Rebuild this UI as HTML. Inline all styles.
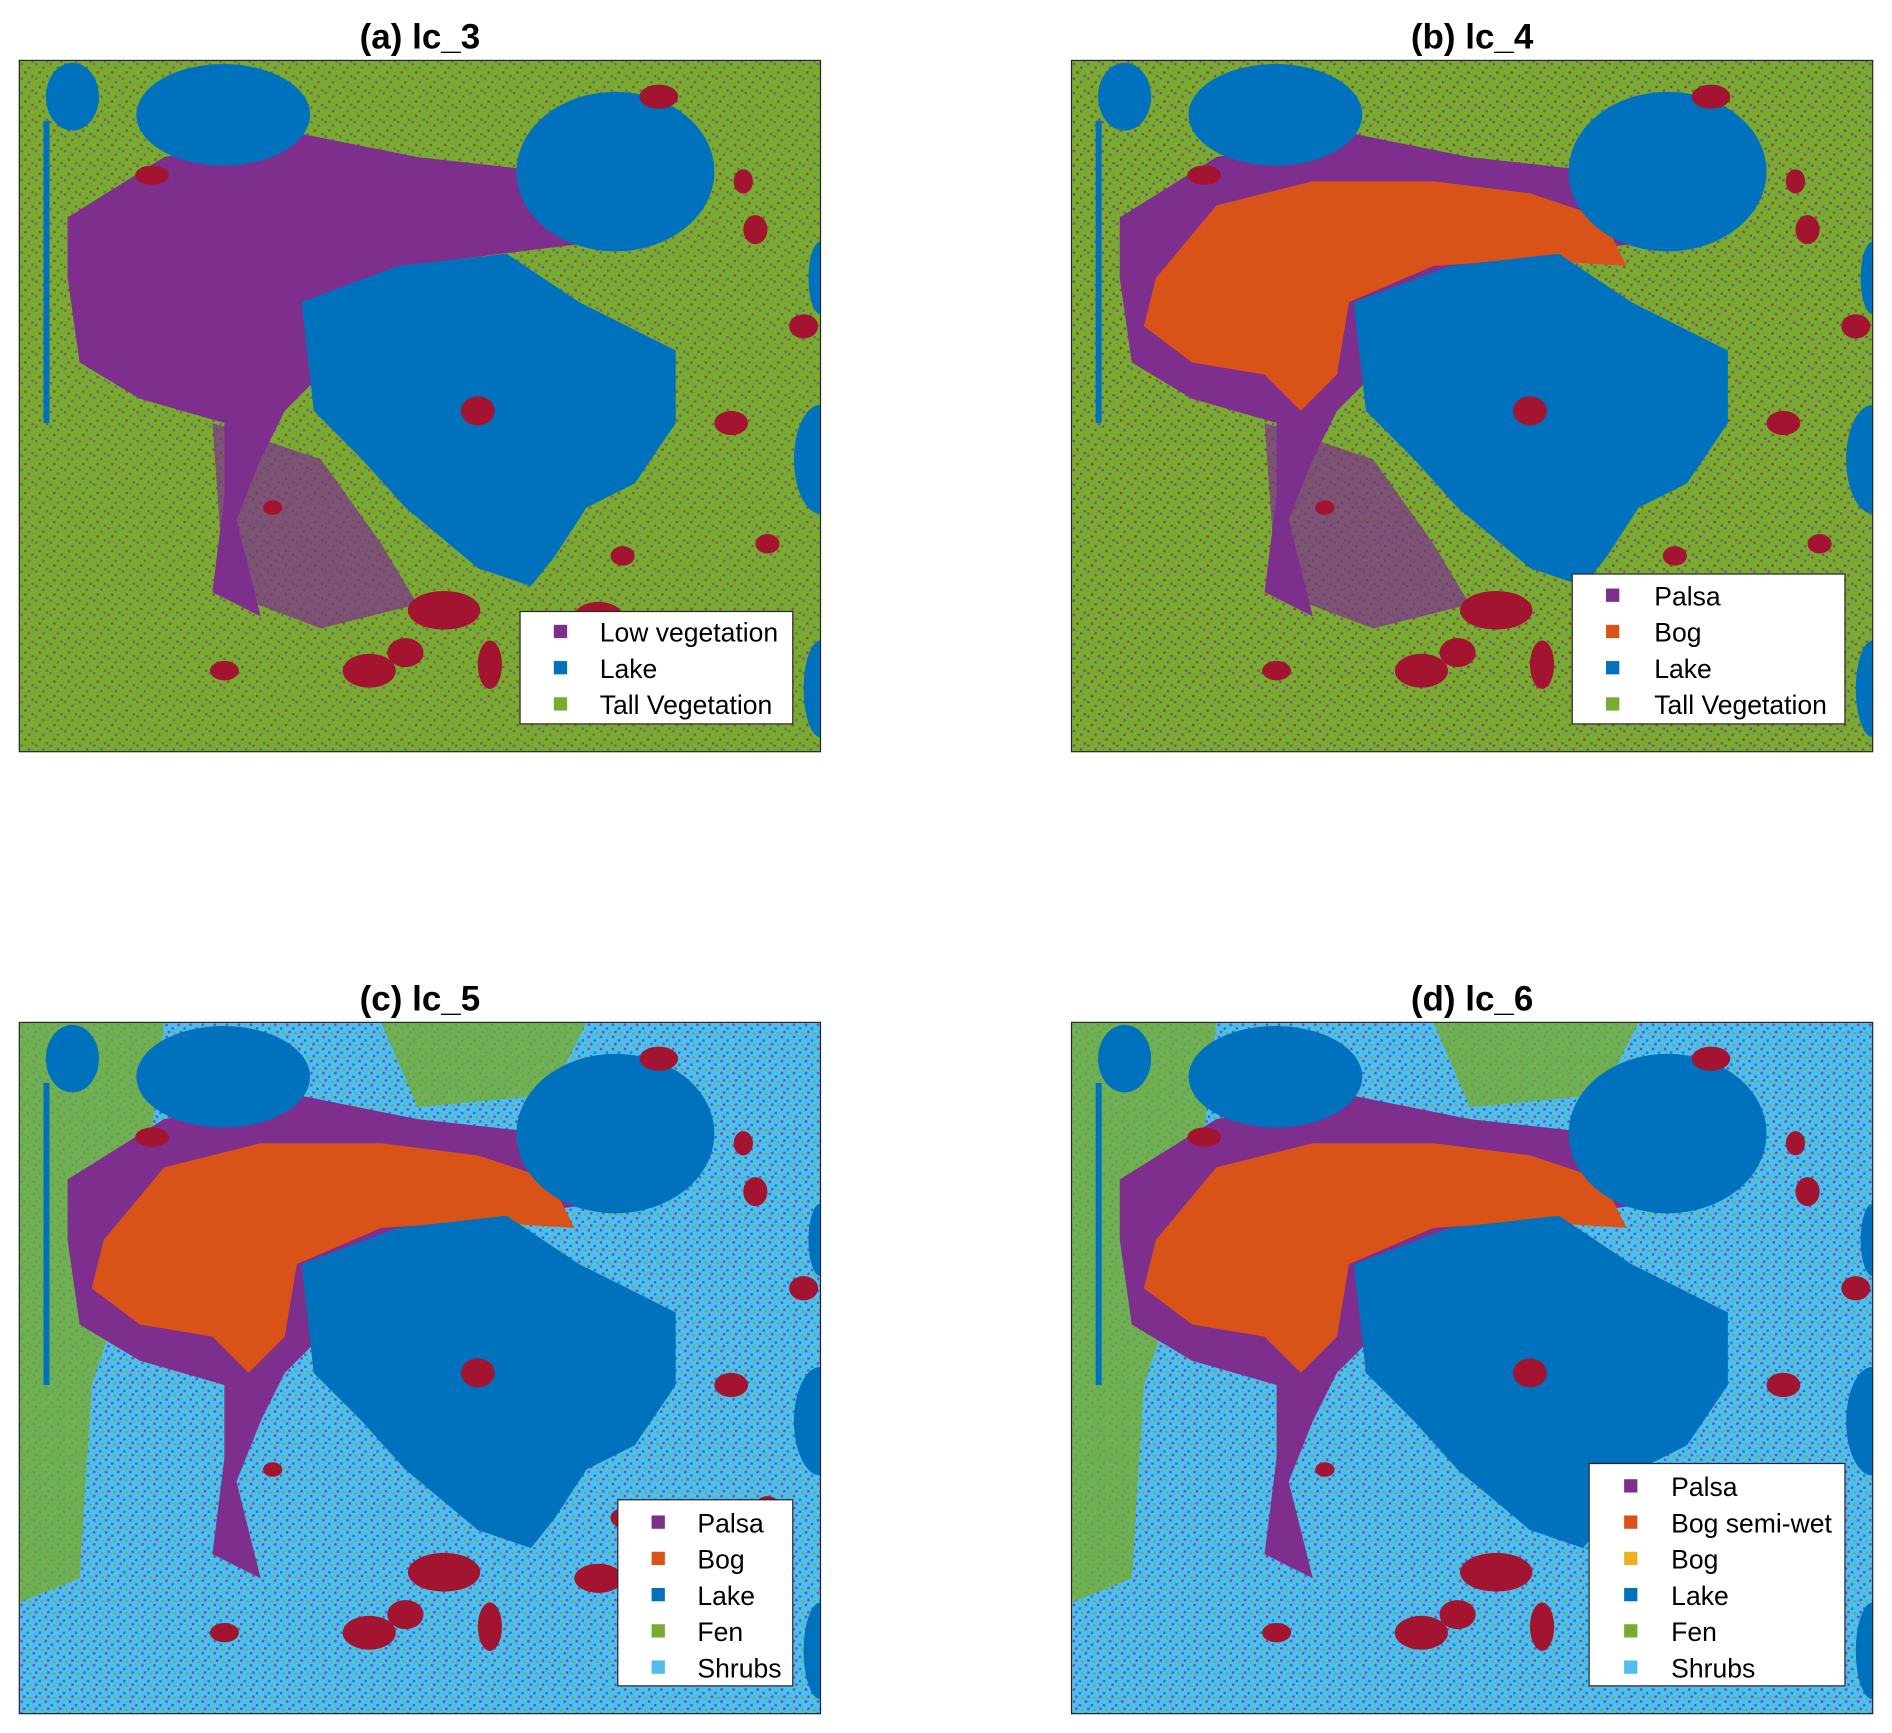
<!DOCTYPE html>
<html><head><meta charset="utf-8"><style>
html,body{margin:0;padding:0;background:#fff}
svg{display:block}
text{font-family:"Liberation Sans",Arial,sans-serif}
</style></head><body>
<svg width="1892" height="1733" viewBox="0 0 1568 1434" preserveAspectRatio="none" xmlns="http://www.w3.org/2000/svg">
<defs>
<clipPath id="cp"><rect width="664" height="572"/></clipPath>
<pattern id="nz" width="12" height="12" patternUnits="userSpaceOnUse">
<rect x="1" y="2" width="2" height="2" fill="#7E2F8E"/><rect x="7" y="5" width="2" height="2" fill="#7E2F8E"/><rect x="4" y="9" width="2" height="2" fill="#A2142F"/><rect x="10" y="0" width="2" height="2" fill="#7E2F8E"/>
</pattern>
<pattern id="nz2" width="10" height="10" patternUnits="userSpaceOnUse">
<rect x="1" y="1" width="2" height="2" fill="#7E2F8E"/><rect x="6" y="4" width="2" height="2" fill="#0072BD"/><rect x="3" y="7" width="2" height="2" fill="#7E2F8E"/><rect x="8" y="8" width="2" height="2" fill="#77AC30"/>
</pattern>
<g id="lakes" fill="#0072BD">
<ellipse cx="169" cy="45" rx="72" ry="42"/>
<ellipse cx="44" cy="30" rx="22" ry="28"/>
<ellipse cx="494" cy="92" rx="82" ry="66"/>
<path d="M234 200 L314 170 L404 160 L464 200 L544 240 L544 300 L510 350 L470 370 L444 410 L424 435 L380 420 L320 370 L284 330 L244 290 Z"/>
<ellipse cx="664" cy="330" rx="22" ry="45"/>
<ellipse cx="664" cy="180" rx="10" ry="30"/>
<ellipse cx="664" cy="520" rx="14" ry="40"/>
<path d="M20 50 L25 50 L25 300 L20 300 Z"/>
</g>
<g id="reds" fill="#A2142F">
<ellipse cx="290" cy="505" rx="22" ry="14"/><ellipse cx="352" cy="455" rx="30" ry="16"/>
<ellipse cx="320" cy="490" rx="15" ry="12"/><ellipse cx="390" cy="500" rx="10" ry="20"/>
<ellipse cx="480" cy="460" rx="20" ry="12"/><ellipse cx="170" cy="505" rx="12" ry="8"/>
<ellipse cx="610" cy="140" rx="10" ry="12"/><ellipse cx="600" cy="100" rx="8" ry="10"/>
<ellipse cx="380" cy="290" rx="14" ry="12"/><ellipse cx="110" cy="95" rx="14" ry="8"/>
<ellipse cx="590" cy="300" rx="14" ry="10"/><ellipse cx="650" cy="220" rx="12" ry="10"/>
<ellipse cx="530" cy="30" rx="16" ry="10"/><ellipse cx="500" cy="410" rx="10" ry="8"/>
<ellipse cx="210" cy="370" rx="8" ry="6"/><ellipse cx="620" cy="400" rx="10" ry="8"/>
</g>
<path id="palsa" d="M40 130 L120 80 L230 60 L330 80 L420 90 L470 110 L480 150 L400 160 L320 170 L240 200 L250 260 L220 290 L200 330 L180 380 L200 460 L160 440 L170 360 L170 300 L100 280 L50 250 L40 180 Z"/>
<path id="bog" d="M70 180 L120 120 L200 100 L300 100 L380 110 L440 130 L460 170 L380 165 L300 170 L230 200 L220 260 L190 290 L160 260 L100 250 L60 220 Z"/>
</defs>

<g transform="translate(16,50)" clip-path="url(#cp)">
<rect width="664" height="572" fill="#77AC30"/>
<rect width="664" height="572" fill="url(#nz)" opacity="0.6"/>
<use href="#palsa" fill="#7E2F8E"/>
<path d="M160 300 L250 330 L300 400 L330 450 L250 470 L170 440 Z" fill="#7E2F8E" opacity="0.7"/>
<use href="#lakes"/><use href="#reds"/>
</g>
<rect x="16" y="50" width="664" height="572" fill="none" stroke="#262626" stroke-width="1"/>

<g transform="translate(888,50)" clip-path="url(#cp)">
<rect width="664" height="572" fill="#77AC30"/>
<rect width="664" height="572" fill="url(#nz)" opacity="0.7"/>
<use href="#palsa" fill="#7E2F8E"/>
<use href="#bog" fill="#D95319"/>
<path d="M160 300 L250 330 L300 400 L330 450 L250 470 L170 440 Z" fill="#7E2F8E" opacity="0.7"/>
<use href="#lakes"/><use href="#reds"/>
</g>
<rect x="888" y="50" width="664" height="572" fill="none" stroke="#262626" stroke-width="1"/>

<g transform="translate(16,846)" clip-path="url(#cp)">
<rect width="664" height="572" fill="#4DBEEE"/>
<rect width="664" height="572" fill="url(#nz2)" opacity="0.8"/>
<path d="M0 0 L120 0 L100 180 L60 300 L50 460 L0 480 Z" fill="#77AC30" opacity="0.8"/>
<path d="M300 0 L470 0 L440 60 L330 70 Z" fill="#77AC30" opacity="0.8"/>
<use href="#palsa" fill="#7E2F8E"/>
<use href="#bog" fill="#D95319"/>
<use href="#lakes"/><use href="#reds"/>
</g>
<rect x="16" y="846" width="664" height="572" fill="none" stroke="#262626" stroke-width="1"/>

<g transform="translate(888,846)" clip-path="url(#cp)">
<rect width="664" height="572" fill="#4DBEEE"/>
<rect width="664" height="572" fill="url(#nz2)" opacity="0.8"/>
<path d="M0 0 L120 0 L100 180 L60 300 L50 460 L0 480 Z" fill="#77AC30" opacity="0.8"/>
<path d="M300 0 L470 0 L440 60 L330 70 Z" fill="#77AC30" opacity="0.8"/>
<use href="#palsa" fill="#7E2F8E"/>
<use href="#bog" fill="#D95319"/>
<use href="#lakes"/><use href="#reds"/>
</g>
<rect x="888" y="846" width="664" height="572" fill="none" stroke="#262626" stroke-width="1"/>

<g font-weight="bold" font-size="29" text-anchor="middle" fill="#000">
<text x="348" y="40">(a) lc_3</text>
<text x="1220" y="40">(b) lc_4</text>
<text x="348" y="836">(c) lc_5</text>
<text x="1220" y="836">(d) lc_6</text>
</g>

<g font-size="22" fill="#000">
<rect x="431" y="506" width="226" height="93" fill="#fff" stroke="#262626"/>
<rect x="459" y="517" width="11" height="11" fill="#7E2F8E"/><text x="497" y="531">Low vegetation</text>
<rect x="459" y="547" width="11" height="11" fill="#0072BD"/><text x="497" y="561">Lake</text>
<rect x="459" y="577" width="11" height="11" fill="#77AC30"/><text x="497" y="591">Tall Vegetation</text>

<rect x="1303" y="475" width="226" height="124" fill="#fff" stroke="#262626"/>
<rect x="1331" y="487" width="11" height="11" fill="#7E2F8E"/><text x="1371" y="501">Palsa</text>
<rect x="1331" y="517" width="11" height="11" fill="#D95319"/><text x="1371" y="531">Bog</text>
<rect x="1331" y="547" width="11" height="11" fill="#0072BD"/><text x="1371" y="561">Lake</text>
<rect x="1331" y="577" width="11" height="11" fill="#77AC30"/><text x="1371" y="591">Tall Vegetation</text>

<rect x="512" y="1241" width="145" height="154" fill="#fff" stroke="#262626"/>
<rect x="540" y="1254" width="11" height="11" fill="#7E2F8E"/><text x="578" y="1268">Palsa</text>
<rect x="540" y="1284" width="11" height="11" fill="#D95319"/><text x="578" y="1298">Bog</text>
<rect x="540" y="1314" width="11" height="11" fill="#0072BD"/><text x="578" y="1328">Lake</text>
<rect x="540" y="1344" width="11" height="11" fill="#77AC30"/><text x="578" y="1358">Fen</text>
<rect x="540" y="1374" width="11" height="11" fill="#4DBEEE"/><text x="578" y="1388">Shrubs</text>

<rect x="1317" y="1211" width="212" height="184" fill="#fff" stroke="#262626"/>
<rect x="1346" y="1224" width="11" height="11" fill="#7E2F8E"/><text x="1385" y="1238">Palsa</text>
<rect x="1346" y="1254" width="11" height="11" fill="#D95319"/><text x="1385" y="1268">Bog semi-wet</text>
<rect x="1346" y="1284" width="11" height="11" fill="#EDB120"/><text x="1385" y="1298">Bog</text>
<rect x="1346" y="1314" width="11" height="11" fill="#0072BD"/><text x="1385" y="1328">Lake</text>
<rect x="1346" y="1344" width="11" height="11" fill="#77AC30"/><text x="1385" y="1358">Fen</text>
<rect x="1346" y="1374" width="11" height="11" fill="#4DBEEE"/><text x="1385" y="1388">Shrubs</text>
</g>
</svg>
</body></html>
